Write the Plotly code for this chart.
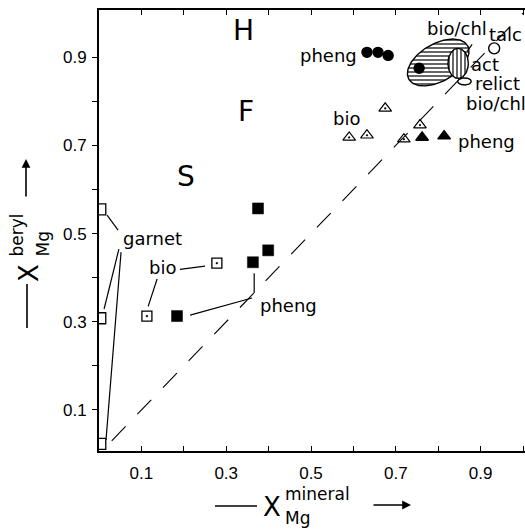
import numpy as np
import plotly.graph_objects as go

# ---------------- data ----------------
pheng_circ_x = [0.632, 0.658, 0.682, 0.755]
pheng_circ_y = [0.911, 0.911, 0.904, 0.875]
talc_x = [0.932]
talc_y = [0.920]
bio_tri_x = [0.590, 0.632, 0.675, 0.719, 0.757]
bio_tri_y = [0.718, 0.723, 0.784, 0.714, 0.746]
pheng_tri_x = [0.762, 0.814]
pheng_tri_y = [0.718, 0.721]
pheng_sq_x = [0.375, 0.399, 0.363, 0.184]
pheng_sq_y = [0.557, 0.462, 0.435, 0.313]
bio_sq_x = [0.278, 0.113]
bio_sq_y = [0.433, 0.313]
garnet_x = [0.003, 0.003, 0.003]
garnet_y = [0.555, 0.308, 0.023]
one_to_one = [0.03, 1.0]

# fields: name, cx, cy, semi-axis a, semi-axis b, angle (deg), hatch
fields = [
    ("bio/chl", 0.800, 0.888, 0.079, 0.043, 28, "-"),
    ("act", 0.847, 0.886, 0.024, 0.034, 0, "|"),
    ("relict bio/chl", 0.862, 0.845, 0.016, 0.008, 0, ""),
]

# leader lines (x0, y0, x1, y1)
leaders = [
    (0.019, 0.542, 0.045, 0.508),
    (0.047, 0.465, 0.012, 0.329),
    (0.052, 0.458, 0.0165, 0.032),
    (0.191, 0.419, 0.250, 0.426),
    (0.137, 0.397, 0.116, 0.335),
    (0.366, 0.410, 0.366, 0.365),
    (0.361, 0.354, 0.215, 0.315),
    (0.868, 0.913, 0.880, 0.929),
]

labels = [
    ("H", 0.340, 0.961, 28),
    ("F", 0.347, 0.777, 28),
    ("S", 0.206, 0.630, 28),
    ("pheng", 0.542, 0.904, 18),
    ("bio/chl", 0.844, 0.965, 18),
    ("talc", 0.958, 0.952, 18),
    ("act", 0.910, 0.884, 18),
    ("relict", 0.941, 0.841, 18),
    ("bio/chl", 0.936, 0.795, 18),
    ("pheng", 0.913, 0.709, 18),
    ("bio", 0.583, 0.761, 18),
    ("garnet", 0.125, 0.490, 18),
    ("bio", 0.149, 0.424, 18),
    ("pheng", 0.446, 0.338, 18),
]

x_ticks = [0.1, 0.2, 0.3, 0.4, 0.5, 0.6, 0.7, 0.8, 0.9, 1.0]
x_ticktext = ["0.1", "", "0.3", "", "0.5", "", "0.7", "", "0.9", ""]
y_ticks = [0.1, 0.2, 0.3, 0.4, 0.5, 0.6, 0.7, 0.8, 0.9]
y_ticktext = ["0.1", "", "0.3", "", "0.5", "", "0.7", "", "0.9"]

FONT = "DejaVu Sans"
W, H = 525, 530
L, R, T, B = 99, 0, 10, 79

fig = go.Figure()

# 1:1 dashed line
fig.add_trace(go.Scatter(x=one_to_one, y=one_to_one, mode="lines",
                         line=dict(color="black", width=1.1, dash="20px,17px"),
                         hoverinfo="skip"))

# hatched fields
t = np.linspace(0, 2 * np.pi, 120)
for name, cx, cy, a, b, ang, hatch in fields:
    th = np.radians(ang)
    ex = cx + a * np.cos(th) * np.cos(t) - b * np.sin(th) * np.sin(t)
    ey = cy + a * np.sin(th) * np.cos(t) + b * np.cos(th) * np.sin(t)
    kw = {}
    if hatch:
        kw["fillpattern"] = dict(shape=hatch, size=4, solidity=0.3,
                                 fgcolor="black", bgcolor="white",
                                 fillmode="replace")
    fig.add_trace(go.Scatter(x=ex, y=ey, mode="lines", fill="toself",
                             fillcolor="white",
                             line=dict(color="black", width=1.4),
                             hoverinfo="skip", **kw))

def pts(x, y, symbol, size, color="black", lw=1.4):
    fig.add_trace(go.Scatter(x=x, y=y, mode="markers",
                             marker=dict(symbol=symbol, size=size, color=color,
                                         line=dict(color="black", width=lw))))

pts(pheng_circ_x, pheng_circ_y, "circle", 10)
pts(talc_x, talc_y, "circle-open", 11)
pts(bio_tri_x, bio_tri_y, "triangle-up-open-dot", 11, lw=1.2)
pts(pheng_tri_x, pheng_tri_y, "triangle-up", 11)
pts(pheng_sq_x, pheng_sq_y, "square", 11, lw=0.5)
pts(bio_sq_x, bio_sq_y, "square-open-dot", 10, lw=1.3)
pts(garnet_x, garnet_y, "square-open", 11, lw=1.3)

for x0, y0, x1, y1 in leaders:
    fig.add_shape(type="line", x0=x0, y0=y0, x1=x1, y1=y1, xref="x", yref="y",
                  line=dict(color="black", width=1.2))

for txt, x, y, sz in labels:
    fig.add_annotation(x=x, y=y, text=txt, showarrow=False, xref="x", yref="y",
                       xanchor="center", yanchor="middle",
                       font=dict(family=FONT, size=sz, color="black"))

# ---------- axis titles built from pieces (pixel helpers) ----------
pw, ph = W - L - R, H - T - B
def px(xp):
    return (xp - L) / pw
def py(yp):
    return (H - B - yp) / ph

# x title
fig.add_shape(type="line", xref="paper", yref="paper",
              x0=px(215), x1=px(257), y0=py(506), y1=py(506),
              line=dict(color="black", width=1.6))
fig.add_annotation(xref="paper", yref="paper", x=px(272), y=py(507), text="X",
                   xanchor="center", yanchor="middle", showarrow=False,
                   font=dict(family=FONT, size=26, color="black"))
fig.add_annotation(xref="paper", yref="paper", x=px(283), y=py(494), text="mineral",
                   xanchor="left", yanchor="middle", showarrow=False,
                   font=dict(family=FONT, size=17, color="black"))
fig.add_annotation(xref="paper", yref="paper", x=px(283), y=py(518), text="Mg",
                   xanchor="left", yanchor="middle", showarrow=False,
                   font=dict(family=FONT, size=17, color="black"))
fig.add_annotation(xref="paper", yref="paper", x=px(411), y=py(505), ax=-39, ay=0,
                   axref="pixel", ayref="pixel", text="", showarrow=True,
                   arrowhead=2, arrowsize=1.1, arrowwidth=1.6, arrowcolor="black")

# y title (rotated)
fig.add_shape(type="line", xref="paper", yref="paper",
              x0=px(27), x1=px(27), y0=py(284), y1=py(328),
              line=dict(color="black", width=1.6))
fig.add_annotation(xref="paper", yref="paper", x=px(29), y=py(273), text="X",
                   textangle=-90, xanchor="center", yanchor="middle", showarrow=False,
                   font=dict(family=FONT, size=26, color="black"))
fig.add_annotation(xref="paper", yref="paper", x=px(16), y=py(259), text="beryl",
                   textangle=-90, xanchor="center", yanchor="bottom", showarrow=False,
                   font=dict(family=FONT, size=17, color="black"))
fig.add_annotation(xref="paper", yref="paper", x=px(42), y=py(259), text="Mg",
                   textangle=-90, xanchor="center", yanchor="bottom", showarrow=False,
                   font=dict(family=FONT, size=17, color="black"))
fig.add_annotation(xref="paper", yref="paper", x=px(26), y=py(159), ax=0, ay=39,
                   axref="pixel", ayref="pixel", text="", showarrow=True,
                   arrowhead=2, arrowsize=1.1, arrowwidth=1.6, arrowcolor="black")

fig.update_layout(
    width=W, height=H,
    margin=dict(l=L, r=R, t=T, b=B),
    paper_bgcolor="white", plot_bgcolor="white",
    showlegend=False,
    xaxis=dict(range=[0, 1.0047], showgrid=False, zeroline=False,
               showline=True, linecolor="black", linewidth=2, mirror="ticks",
               ticks="inside", ticklen=5, tickwidth=1.2, tickcolor="black",
               tickvals=x_ticks, ticktext=x_ticktext,
               tickfont=dict(family="Liberation Sans", size=17, color="black"),
               ticklabelstandoff=6),
    yaxis=dict(range=[0.007, 1.007], showgrid=False, zeroline=False,
               showline=True, linecolor="black", linewidth=2, mirror=False,
               ticks="outside", ticklen=5, tickwidth=1.2, tickcolor="black",
               tickvals=y_ticks, ticktext=y_ticktext,
               tickfont=dict(family="Liberation Sans", size=17, color="black"),
               ticklabelstandoff=2),
)

fig.write_html("out.html")
